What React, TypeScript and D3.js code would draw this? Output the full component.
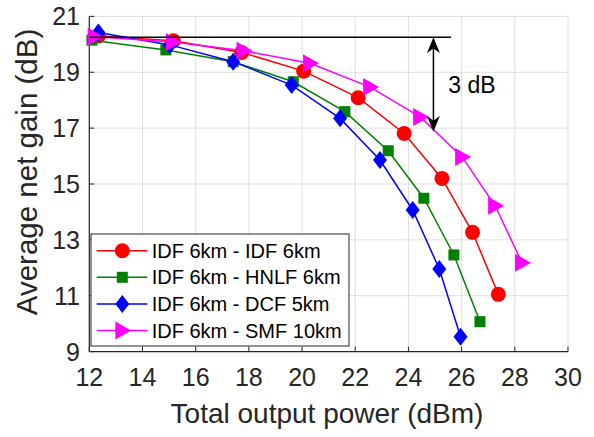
import React from "react";
import { scaleLinear, line, range } from "d3";

// total output power (dBm) / average net gain (dB) for each link
const idfPower = [12.34, 15.16, 17.73, 20.06, 22.11, 23.84, 25.26, 26.41, 27.38];
const idfGain = [20.3, 20.13, 19.71, 19.04, 18.09, 16.81, 15.2, 13.27, 11.05];
const hnlfPower = [12.1, 14.88, 17.41, 19.67, 21.61, 23.24, 24.58, 25.71, 26.69];
const hnlfGain = [20.15, 19.8, 19.38, 18.66, 17.59, 16.19, 14.49, 12.46, 10.07];
const dcfPower = [12.34, 15.03, 17.41, 19.61, 21.43, 22.93, 24.16, 25.16, 25.96];
const dcfGain = [20.42, 19.98, 19.38, 18.54, 17.35, 15.86, 14.07, 11.96, 9.53];
const smfPower = [12.2, 15.14, 17.8, 20.3, 22.56, 24.44, 26.02, 27.26, 28.27];
const smfGain = [20.27, 20.08, 19.77, 19.32, 18.47, 17.4, 15.97, 14.22, 12.18];

const seriesNames = [
  "IDF 6km - IDF 6km",
  "IDF 6km - HNLF 6km",
  "IDF 6km - DCF 5km",
  "IDF 6km - SMF 10km",
];

const xTicks = range(12, 31, 2);
const yTicks = range(9, 22, 2);

// 3 dB annotation
const refGain = 20.25;
const refEnd = 25.6;
const arrowPower = 24.94;
const arrowLow = 16.87;

const FONT = "'Liberation Sans', Arial, Helvetica, sans-serif";
const AX = "#262626";

const series = [
  { name: seriesNames[0], xs: idfPower, ys: idfGain, color: "#ff0000", marker: "circle" },
  { name: seriesNames[1], xs: hnlfPower, ys: hnlfGain, color: "#008000", marker: "square" },
  { name: seriesNames[2], xs: dcfPower, ys: dcfGain, color: "#0000ff", marker: "diamond" },
  { name: seriesNames[3], xs: smfPower, ys: smfGain, color: "#ff00ff", marker: "triangle" },
];

function Marker({ type, x, y, color }: { type: string; x: number; y: number; color: string }) {
  if (type === "circle") return <circle cx={x} cy={y} r={7.5} fill={color} />;
  if (type === "square")
    return <rect x={x - 5.5} y={y - 5.5} width={11} height={11} fill={color} />;
  if (type === "diamond")
    return <path d={`M${x},${y - 9}L${x + 7},${y}L${x},${y + 9}L${x - 7},${y}Z`} fill={color} />;
  return <path d={`M${x + 9},${y}L${x - 7},${y - 9}L${x - 7},${y + 9}Z`} fill={color} />;
}

function arrowHead(tx: number, ty: number, dir: number) {
  // dir 1 = pointing up, -1 = pointing down
  const L = 16, W = 6.5, N = 11;
  return `M${tx},${ty}L${tx - W},${ty + dir * L}L${tx},${ty + dir * N}L${tx + W},${ty + dir * L}Z`;
}

export default function App() {
  const x = scaleLinear().domain([12, 30]).range([89.3, 568]);
  const y = scaleLinear().domain([9, 21]).range([351.6, 16.4]);

  const ax = arrowPower;
  const topY = y(refGain);
  const botY = y(arrowLow);

  const legX = 91, legY = 234, legW = 258, legH = 112;
  const rowY = [250.7, 277.3, 304, 330.5];

  return (
    <svg width={594} height={437} style={{ position: "absolute", left: 0, top: 0, background: "#fff" }} fontFamily={FONT}>
      <rect width={594} height={437} fill="#fff" />
      {/* grid */}
      {xTicks.map(t => (
        <line key={"gx" + t} x1={x(t)} x2={x(t)} y1={y(9)} y2={y(21)} stroke="#dfdfdf" strokeWidth={1} />
      ))}
      {yTicks.map(t => (
        <line key={"gy" + t} x1={x(12)} x2={x(30)} y1={y(t)} y2={y(t)} stroke="#dfdfdf" strokeWidth={1} />
      ))}
      {/* axes */}
      <line x1={x(12)} x2={x(30)} y1={y(9)} y2={y(9)} stroke={AX} strokeWidth={1.2} />
      <line x1={x(12)} x2={x(12)} y1={y(9)} y2={y(21)} stroke={AX} strokeWidth={1.2} />
      {xTicks.map(t => (
        <g key={"tx" + t}>
          <line x1={x(t)} x2={x(t)} y1={y(9)} y2={y(9) - 5} stroke={AX} />
          <text x={x(t)} y={386} textAnchor="middle" fontSize={25} fill={AX}>{t}</text>
        </g>
      ))}
      {yTicks.map(t => (
        <g key={"ty" + t}>
          <line x1={x(12)} x2={x(12) + 5} y1={y(t)} y2={y(t)} stroke={AX} />
          <text x={80} y={y(t) + 9} textAnchor="end" fontSize={25} fill={AX}>{t}</text>
        </g>
      ))}
      <text x={327} y={423} textAnchor="middle" fontSize={28} fill={AX}>Total output power (dBm)</text>
      <text transform="translate(37,172) rotate(-90)" textAnchor="middle" fontSize={29.5} fill={AX}>
        Average net gain (dB)
      </text>

      {/* series */}
      {series.map(s => {
        const pts = s.xs.map((v, i) => [x(v), y(s.ys[i])] as [number, number]);
        return (
          <g key={s.name}>
            <path d={line()(pts) || ""} fill="none" stroke={s.color} strokeWidth={1.5} />
            {pts.map((p, i) => (
              <Marker key={i} type={s.marker} x={p[0]} y={p[1]} color={s.color} />
            ))}
          </g>
        );
      })}

      {/* 3 dB annotation */}
      <line x1={x(12)} x2={x(refEnd)} y1={topY} y2={topY} stroke="#000" strokeWidth={1.5} />
      <line x1={x(ax)} x2={x(ax)} y1={topY + 4} y2={botY - 4} stroke="#000" strokeWidth={1.5} />
      <path d={arrowHead(x(ax), topY, 1)} fill="#000" />
      <path d={arrowHead(x(ax), botY, -1)} fill="#000" />
      <text x={x(25.5)} y={y(18.25)} fontSize={23} fill="#000">3 dB</text>

      {/* legend */}
      <rect x={legX} y={legY} width={legW} height={legH} fill="#fff" stroke={AX} strokeWidth={1} />
      {series.map((s, i) => (
        <g key={"lg" + i}>
          <line x1={96.7} x2={147.3} y1={rowY[i]} y2={rowY[i]} stroke={s.color} strokeWidth={1.5} />
          <Marker type={s.marker} x={122.3} y={rowY[i]} color={s.color} />
          <text x={151.7} y={rowY[i] + 7} fontSize={20} fill="#000">{s.name}</text>
        </g>
      ))}
    </svg>
  );
}
